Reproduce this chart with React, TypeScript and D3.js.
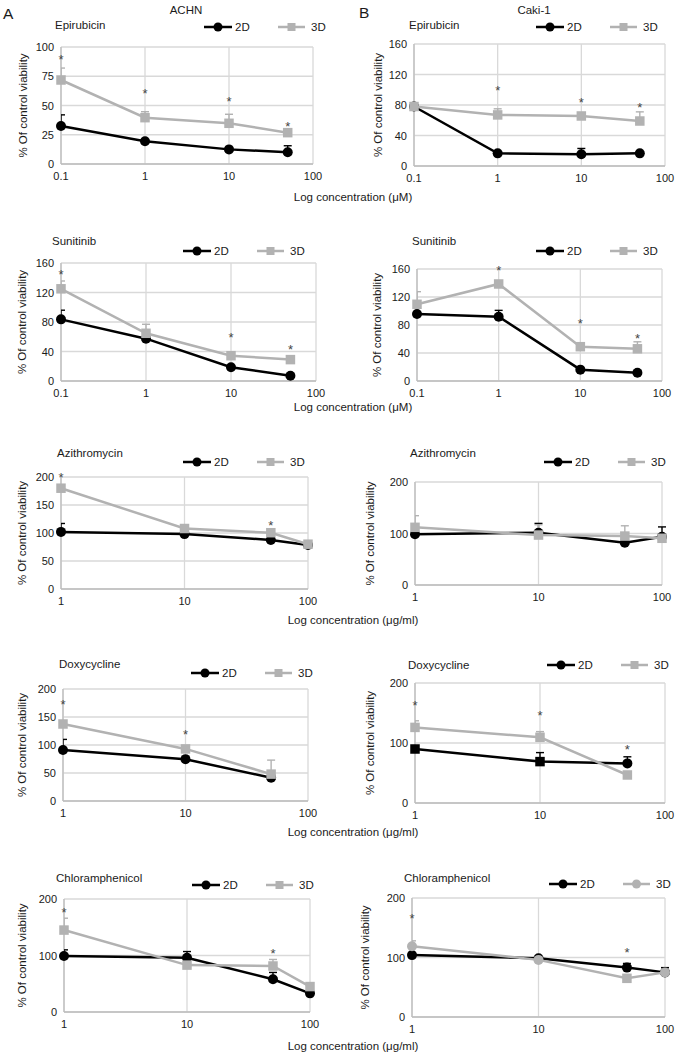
import React from 'react';
import * as d3 from 'd3';

// ---------- data ----------
const CONC_UM = [0.1, 1, 10, 50];
const CONC_UG_4 = [1, 10, 50, 100];
const CONC_UG_3 = [1, 10, 50];

const ACHN_EPI_2D = [32.5, 19.4, 12.5, 10];
const ACHN_EPI_2D_ERR = [9.5, 1, 1, 5.6];
const ACHN_EPI_3D = [71.8, 39.6, 34.8, 26.8];
const ACHN_EPI_3D_ERR = [10.2, 5.1, 7.7, 1];
const ACHN_EPI_STAR = [91.5, 62.4, 56.4, 34.2];

const CAKI_EPI_2D = [78, 16.6, 15.3, 16.6];
const CAKI_EPI_2D_ERR = [1, 1, 7.7, 1];
const CAKI_EPI_3D = [78, 67, 65.6, 59];
const CAKI_EPI_3D_ERR = [1, 8, 1, 12];
const CAKI_EPI_STAR = [NaN, 103.6, 86.6, 81.3];

const ACHN_SUN_2D = [83.6, 57.4, 18.6, 7.2];
const ACHN_SUN_2D_ERR = [12.4, 1, 1, 1];
const ACHN_SUN_3D = [125, 64.7, 34.3, 29];
const ACHN_SUN_3D_ERR = [10.6, 12.2, 1, 1];
const ACHN_SUN_STAR = [148, NaN, 63.7, 46.5];

const CAKI_SUN_2D = [95.7, 91.9, 16.2, 11.9];
const CAKI_SUN_2D_ERR = [1, 9, 1, 2];
const CAKI_SUN_3D = [109.6, 138.6, 49, 46];
const CAKI_SUN_3D_ERR = [18, 2, 1, 10];
const CAKI_SUN_STAR = [NaN, 162.4, 87, 65.7];

const ACHN_AZI_2D = [102, 98, 87.5, 78.6];
const ACHN_AZI_2D_ERR = [15, 1, 1, 1];
const ACHN_AZI_3D = [180, 108, 100.5, 80];
const ACHN_AZI_3D_ERR = [1, 1, 1, 1];
const ACHN_AZI_STAR = [204.8, NaN, 118.4, NaN];

const CAKI_AZI_2D = [98.4, 101.6, 82, 93.8];
const CAKI_AZI_2D_ERR = [1, 18, 1, 19];
const CAKI_AZI_3D = [112, 97, 95, 90.7];
const CAKI_AZI_3D_ERR = [22.6, 20, 20, 1];
const CAKI_AZI_STAR = [NaN, NaN, NaN, NaN];

const ACHN_DOX_2D = [91, 74.5, 41.6];
const ACHN_DOX_2D_ERR = [19, 5.5, 1];
const ACHN_DOX_3D = [137.5, 93, 48];
const ACHN_DOX_3D_ERR = [1, 1, 25];
const ACHN_DOX_STAR = [177, 123.8, NaN];

const CAKI_DOX_2D = [90, 69, 66];
const CAKI_DOX_2D_ERR = [1, 15, 11];
const CAKI_DOX_3D = [126, 109.5, 46.7];
const CAKI_DOX_3D_ERR = [11, 9.5, 1];
const CAKI_DOX_STAR = [167, 150.5, 94];

const ACHN_CHL_2D = [99, 96, 58, 33];
const ACHN_CHL_2D_ERR = [11, 11, 12, 1];
const ACHN_CHL_3D = [145, 83, 81.4, 45];
const ACHN_CHL_3D_ERR = [21, 1, 11.6, 1];
const ACHN_CHL_STAR = [181.8, NaN, 109.7, NaN];

const CAKI_CHL_2D = [104, 98.6, 83, 75];
const CAKI_CHL_2D_ERR = [1, 1, 7, 8];
const CAKI_CHL_3D = [119, 96, 65, 75];
const CAKI_CHL_3D_ERR = [9, 1, 1, 1];
const CAKI_CHL_STAR = [171.4, NaN, 113.8, NaN];

const CAKI_DOX_2D_SHAPES = ['square', 'square', 'circle'];
const CAKI_CHL_3D_SHAPES = ['circle', 'circle', 'square', 'circle'];

const DRUGS = ['Epirubicin', 'Sunitinib', 'Azithromycin', 'Doxycycline', 'Chloramphenicol'];
const CELL_LINES = ['ACHN', 'Caki-1'];
const SERIES_NAMES = ['2D', '3D'];
const X_TITLES = ['Log concentration (\u03bcM)', 'Log concentration (\u03bcg/ml)'];

// ---------- layout (positions only) ----------
const LAYOUT = [
  { l: 61, r: 313, t: 47, b: 164, yMax: 100, yStep: 25, titleX: 55, titleY: 29, legX: 204, legY: 27, ylabX: 27 },
  { l: 414, r: 665, t: 44, b: 166, yMax: 160, yStep: 40, titleX: 409, titleY: 29, legX: 536, legY: 27, ylabX: 382 },
  { l: 61, r: 316, t: 263, b: 381, yMax: 160, yStep: 40, titleX: 52, titleY: 245, legX: 183, legY: 251, ylabX: 26 },
  { l: 417, r: 662, t: 269, b: 381, yMax: 160, yStep: 40, titleX: 412, titleY: 245, legX: 536, legY: 251, ylabX: 381 },
  { l: 61, r: 308, t: 477, b: 589, yMax: 200, yStep: 50, titleX: 57, titleY: 457, legX: 183, legY: 462, ylabX: 26 },
  { l: 415, r: 662, t: 482, b: 585, yMax: 200, yStep: 100, titleX: 410, titleY: 457, legX: 544, legY: 462, ylabX: 374 },
  { l: 63, r: 308, t: 689, b: 801, yMax: 200, yStep: 50, titleX: 59, titleY: 668, legX: 191, legY: 673, ylabX: 26 },
  { l: 415, r: 665, t: 683, b: 803, yMax: 200, yStep: 100, titleX: 408, titleY: 669, legX: 547, legY: 665, ylabX: 374 },
  { l: 64, r: 310, t: 899, b: 1012, yMax: 200, yStep: 100, titleX: 56, titleY: 882, legX: 192, legY: 885, ylabX: 26 },
  { l: 412, r: 665, t: 898, b: 1017, yMax: 200, yStep: 100, titleX: 404, titleY: 882, legX: 549, legY: 884, ylabX: 369 },
];
const X_TITLE_Y = [201, 411, 624, 836, 1050];

const PANEL_DATA = [
  { conc: CONC_UM, d2: ACHN_EPI_2D, e2: ACHN_EPI_2D_ERR, d3: ACHN_EPI_3D, e3: ACHN_EPI_3D_ERR, star: ACHN_EPI_STAR },
  { conc: CONC_UM, d2: CAKI_EPI_2D, e2: CAKI_EPI_2D_ERR, d3: CAKI_EPI_3D, e3: CAKI_EPI_3D_ERR, star: CAKI_EPI_STAR },
  { conc: CONC_UM, d2: ACHN_SUN_2D, e2: ACHN_SUN_2D_ERR, d3: ACHN_SUN_3D, e3: ACHN_SUN_3D_ERR, star: ACHN_SUN_STAR },
  { conc: CONC_UM, d2: CAKI_SUN_2D, e2: CAKI_SUN_2D_ERR, d3: CAKI_SUN_3D, e3: CAKI_SUN_3D_ERR, star: CAKI_SUN_STAR },
  { conc: CONC_UG_4, d2: ACHN_AZI_2D, e2: ACHN_AZI_2D_ERR, d3: ACHN_AZI_3D, e3: ACHN_AZI_3D_ERR, star: ACHN_AZI_STAR },
  { conc: CONC_UG_4, d2: CAKI_AZI_2D, e2: CAKI_AZI_2D_ERR, d3: CAKI_AZI_3D, e3: CAKI_AZI_3D_ERR, star: CAKI_AZI_STAR },
  { conc: CONC_UG_3, d2: ACHN_DOX_2D, e2: ACHN_DOX_2D_ERR, d3: ACHN_DOX_3D, e3: ACHN_DOX_3D_ERR, star: ACHN_DOX_STAR },
  { conc: CONC_UG_3, d2: CAKI_DOX_2D, e2: CAKI_DOX_2D_ERR, d3: CAKI_DOX_3D, e3: CAKI_DOX_3D_ERR, star: CAKI_DOX_STAR, shapes2: CAKI_DOX_2D_SHAPES },
  { conc: CONC_UG_4, d2: ACHN_CHL_2D, e2: ACHN_CHL_2D_ERR, d3: ACHN_CHL_3D, e3: ACHN_CHL_3D_ERR, star: ACHN_CHL_STAR },
  { conc: CONC_UG_4, d2: CAKI_CHL_2D, e2: CAKI_CHL_2D_ERR, d3: CAKI_CHL_3D, e3: CAKI_CHL_3D_ERR, star: CAKI_CHL_STAR, shapes3: CAKI_CHL_3D_SHAPES },
];

const FONT = '"Liberation Sans", Arial, Helvetica, sans-serif';
const BLACK = '#000000';
const GREY = '#b2b2b2';
const GRID = '#d9d9d9';
const TEXT = '#1a1a1a';

function Marker({ shape, x, y, color, size }: { shape: string; x: number; y: number; color: string; size: number }) {
  if (shape === 'square') {
    return <rect x={x - size / 2} y={y - size / 2} width={size} height={size} fill={color} />;
  }
  return <circle cx={x} cy={y} r={size / 2} fill={color} />;
}

function Panel({ idx }: { idx: number }) {
  const L = LAYOUT[idx];
  const D: any = PANEL_DATA[idx];
  const isUM = idx < 4;
  const xMin = isUM ? 0.1 : 1;
  const xMax = 100;
  const x = d3.scaleLog().domain([xMin, xMax]).range([L.l, L.r]);
  const y = d3.scaleLinear().domain([0, L.yMax]).range([L.b, L.t]);
  const xTicks = d3.range(Math.round(Math.log10(xMin)), Math.round(Math.log10(xMax)) + 1).map((p) => Math.pow(10, p));
  const yTicks = d3.range(0, L.yMax + 0.001, L.yStep);
  const fmt = d3.format('~g');
  const line = d3
    .line<[number, number]>()
    .x((d) => x(d[0]))
    .y((d) => y(d[1]));
  const clipId = `clip-${idx}`;
  const series = [
    { vals: D.d2, errs: D.e2, color: BLACK, shapes: D.shapes2 || D.conc.map(() => 'circle') },
    { vals: D.d3, errs: D.e3, color: GREY, shapes: D.shapes3 || D.conc.map(() => 'square') },
  ];
  const lx = L.legX;
  const ly = L.legY;
  return (
    <g>
      <defs>
        <clipPath id={clipId}>
          <rect x={L.l} y={L.t - 60} width={L.r - L.l + 10} height={L.b - L.t + 80} />
        </clipPath>
      </defs>
      {/* grid */}
      {yTicks.map((t) => (
        <line key={'gy' + t} x1={L.l} x2={L.r} y1={y(t)} y2={y(t)} stroke={GRID} strokeWidth={1.3} />
      ))}
      {xTicks.map((t) => (
        <line key={'gx' + t} x1={x(t)} x2={x(t)} y1={L.t} y2={L.b} stroke={GRID} strokeWidth={1.3} />
      ))}
      <line x1={L.l} x2={L.l} y1={L.t} y2={L.b} stroke="#bdbdbd" strokeWidth={1.3} />
      <line x1={L.l} x2={L.r} y1={L.b} y2={L.b} stroke="#bdbdbd" strokeWidth={1.3} />
      {/* tick labels */}
      {yTicks.map((t) => (
        <text key={'ty' + t} x={L.l - 7} y={y(t) + 4} textAnchor="end" fontSize={11} fill={TEXT}>
          {fmt(t)}
        </text>
      ))}
      {xTicks.map((t) => (
        <text key={'tx' + t} x={x(t)} y={L.b + 16} textAnchor="middle" fontSize={11} fill={TEXT}>
          {fmt(t)}
        </text>
      ))}
      {/* y label */}
      <text
        transform={`translate(${L.ylabX},${(L.t + L.b) / 2}) rotate(-90)`}
        textAnchor="middle"
        fontSize={11.5}
        fill={TEXT}
      >
        % Of control viability
      </text>
      {/* title */}
      <text x={L.titleX} y={L.titleY} fontSize={11.5} fill={TEXT}>
        {DRUGS[Math.floor(idx / 2)]}
      </text>
      {/* error bars */}
      <g clipPath={`url(#${clipId})`}>
        {series.map((s, si) =>
          D.conc.map((c: number, i: number) => {
            const px = x(c);
            const y0 = y(s.vals[i]);
            const y1 = y(s.vals[i] + s.errs[i]);
            return (
              <g key={`e${si}-${i}`} stroke={s.color} strokeWidth={1.4}>
                <line x1={px} x2={px} y1={y0} y2={y1} />
                <line x1={px - 4} x2={px + 4} y1={y1} y2={y1} />
              </g>
            );
          })
        )}
      </g>
      {/* lines + markers */}
      {series.map((s, si) => (
        <g key={'s' + si}>
          <path
            d={line(D.conc.map((c: number, i: number) => [c, s.vals[i]] as [number, number])) || ''}
            fill="none"
            stroke={s.color}
            strokeWidth={2.5}
          />
          {D.conc.map((c: number, i: number) => (
            <Marker
              key={i}
              shape={s.shapes[i]}
              x={x(c)}
              y={y(s.vals[i])}
              color={s.color}
              size={s.shapes[i] === 'square' ? 9.5 : 10}
            />
          ))}
        </g>
      ))}
      {/* asterisks */}
      {D.conc.map((c: number, i: number) =>
        isNaN(D.star[i]) ? null : (
          <text key={'st' + i} x={x(c)} y={y(D.star[i]) + 7.5} textAnchor="middle" fontSize={13} fill="#444444">
            *
          </text>
        )
      )}
      {/* legend */}
      <line x1={lx} x2={lx + 28} y1={ly} y2={ly} stroke={BLACK} strokeWidth={2.5} />
      <circle cx={lx + 14} cy={ly} r={4.5} fill={BLACK} />
      <text x={lx + 31} y={ly + 4} fontSize={11.5} fill={TEXT}>
        {SERIES_NAMES[0]}
      </text>
      <line x1={lx + 74} x2={lx + 101} y1={ly} y2={ly} stroke={GREY} strokeWidth={2.5} />
      {idx === 9 ? (
        <circle cx={lx + 87.5} cy={ly} r={4.5} fill={GREY} />
      ) : (
        <rect x={lx + 83.5} y={ly - 4} width={8} height={8} fill={GREY} />
      )}
      <text x={lx + 107} y={ly + 4} fontSize={11.5} fill={TEXT}>
        {SERIES_NAMES[1]}
      </text>
    </g>
  );
}

export default function App() {
  return (
    <svg
      width={677}
      height={1059}
      style={{ position: 'absolute', left: 0, top: 0, background: '#fff' }}
      fontFamily={FONT}
    >
      <rect x={0} y={0} width={677} height={1059} fill="#fff" />
      <text x={3} y={19} fontSize={15.5} fill={TEXT}>A</text>
      <text x={359} y={18} fontSize={15.5} fill={TEXT}>B</text>
      <text x={186} y={14} fontSize={11.5} textAnchor="middle" fill={TEXT}>{CELL_LINES[0]}</text>
      <text x={534} y={14} fontSize={11.5} textAnchor="middle" fill={TEXT}>{CELL_LINES[1]}</text>
      {LAYOUT.map((_, i) => (
        <Panel key={i} idx={i} />
      ))}
      {X_TITLE_Y.map((yy, r) => (
        <text key={'xt' + r} x={353} y={yy} fontSize={11.5} textAnchor="middle" fill={TEXT}>
          {X_TITLES[r < 2 ? 0 : 1]}
        </text>
      ))}
    </svg>
  );
}
